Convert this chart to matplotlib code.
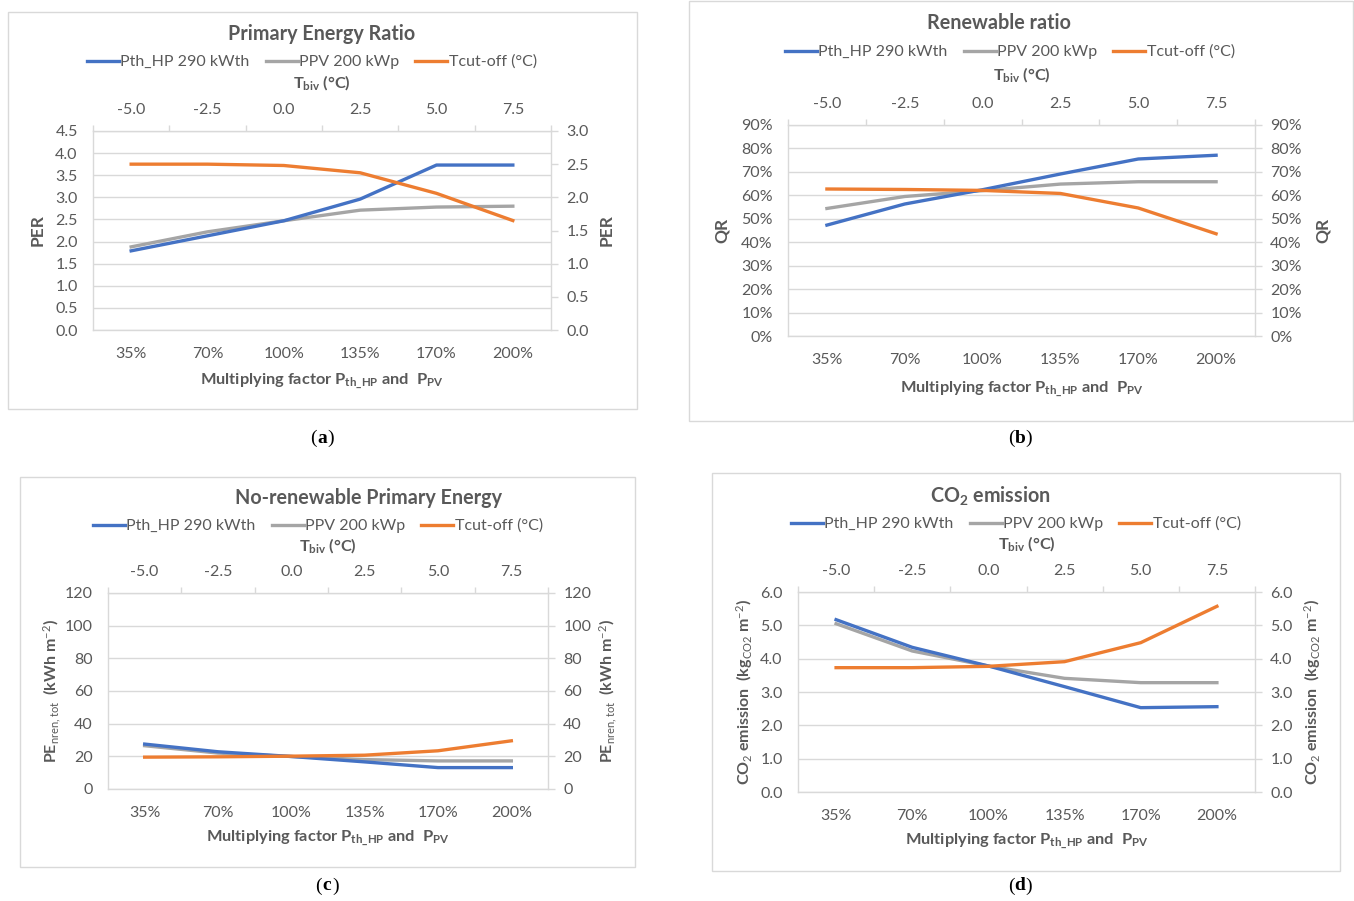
import matplotlib
matplotlib.use("Agg")
import matplotlib.pyplot as plt
from matplotlib.patches import Rectangle
from matplotlib.lines import Line2D
from matplotlib.ticker import FuncFormatter
import numpy as np

plt.rcParams["font.family"] = ["Lato", "DejaVu Sans"]
plt.rcParams["mathtext.fontset"] = "custom"
plt.rcParams["mathtext.rm"] = "Lato"
plt.rcParams["mathtext.it"] = "Lato:italic"
plt.rcParams["mathtext.bf"] = "Lato:bold"
plt.rcParams["mathtext.default"] = "regular"

W, H = 1354, 901

# ---- data -------------------------------------------------------------
categories = ["35%", "70%", "100%", "135%", "170%", "200%"]
tbiv_labels = ["-5.0", "-2.5", "0.0", "2.5", "5.0", "7.5"]
legend_labels = ["Pth_HP 290 kWth", "PPV 200 kWp", "Tcut-off (°C)"]

per_hp = [1.79, 2.13, 2.47, 2.96, 3.73, 3.73]
per_pv = [1.88, 2.22, 2.47, 2.71, 2.78, 2.80]
per_cut = [2.50, 2.50, 2.48, 2.37, 2.06, 1.65]

qr_hp = [0.473, 0.563, 0.624, 0.691, 0.755, 0.771]
qr_pv = [0.544, 0.595, 0.620, 0.648, 0.658, 0.658]
qr_cut = [0.627, 0.625, 0.621, 0.608, 0.546, 0.436]

pe_hp = [27.5, 22.8, 19.9, 16.6, 13.1, 13.1]
pe_pv = [26.5, 22.0, 19.9, 18.0, 17.2, 17.2]
pe_cut = [19.5, 19.7, 20.1, 20.7, 23.4, 29.5]

co2_hp = [5.17, 4.34, 3.78, 3.16, 2.53, 2.56]
co2_pv = [5.05, 4.23, 3.78, 3.41, 3.28, 3.28]
co2_cut = [3.73, 3.73, 3.77, 3.91, 4.48, 5.57]

# ---- style ------------------------------------------------------------
BLUE, GRAY, ORANGE = "#4472C4", "#A5A5A5", "#ED7D31"
TXT = "#595959"
GRID = "#d9d9d9"
LW = 2.4
TICK_FS = 11.5
LABEL_FS = 11.8
TITLE_FS = 14.2
LEGEND_FS = 11.5


def fx(x):
    return x / W


def fy(y):
    return 1 - y / H


fmt1 = FuncFormatter(lambda v, p: f"{v:.1f}")
fmtpct = FuncFormatter(lambda v, p: f"{v * 100:.0f}%")
fmtint = FuncFormatter(lambda v, p: f"{v:.0f}")

panels = [
    dict(box=(8, 12, 637, 409), plot=(93, 131, 551, 330),
         left=(0, 4.5, 0.5, fmt1), right=(0, 3.0, 0.5, fmt1),
         series=(per_hp, per_pv, per_cut),
         title="Primary Energy Ratio", title_xy=(322, 34),
         legend_xy=(312, 62), tbiv_y=83, xlabel_y=381,
         ylabel="PER", ylab_x=(38, 607), ylab_fs=12.5,
         tag="a", tag_xy=(322, 438)),
    dict(box=(689, 1, 1353, 421), plot=(788, 125, 1255, 336),
         left=(0, 0.9, 0.1, fmtpct), right=(0, 0.9, 0.1, fmtpct),
         series=(qr_hp, qr_pv, qr_cut),
         title="Renewable ratio", title_xy=(999, 23),
         legend_xy=(1010, 52), tbiv_y=75, xlabel_y=389,
         ylabel="QR", ylab_x=(722, 1323), ylab_fs=12.5,
         tag="b", tag_xy=(1020, 438)),
    dict(box=(20, 477, 635, 867), plot=(108, 593, 548, 789),
         left=(0, 120, 20, fmtint), right=(0, 120, 20, fmtint),
         series=(pe_hp, pe_pv, pe_cut),
         title="No-renewable Primary Energy", title_xy=(368, 498),
         legend_xy=(318, 526), tbiv_y=546, xlabel_y=838,
         ylabel=r"PE$_{\mathrm{nren,tot}}$  (kWh m$^{\mathrm{-2}}$)",
         ylab_x=(52, 608), ylab_fs=11.5,
         tag="c", tag_xy=(327, 886)),
    dict(box=(712, 473, 1340, 871), plot=(798, 592, 1255, 792),
         left=(0, 6.0, 1.0, fmt1), right=(0, 6.0, 1.0, fmt1),
         series=(co2_hp, co2_pv, co2_cut),
         title=r"CO$_{2}$ emission", title_xy=(990, 496),
         legend_xy=(1016, 524), tbiv_y=544, xlabel_y=841,
         ylabel=r"CO$_{\mathrm{2}}$ emission  (kg$_{\mathrm{CO2}}$ m$^{\mathrm{-2}}$)",
         ylab_x=(745, 1313), ylab_fs=11.5,
         tag="d", tag_xy=(1020, 886)),
]

fig = plt.figure(figsize=(W / 100, H / 100), dpi=100)
fig.patch.set_facecolor("white")

x = np.arange(len(categories))
bounds = np.arange(-0.5, len(categories), 1.0)

for p in panels:
    bx0, by0, bx1, by1 = p["box"]
    fig.patches.append(Rectangle((fx(bx0), fy(by1)), fx(bx1) - fx(bx0),
                                 (by1 - by0) / H, transform=fig.transFigure,
                                 facecolor="none", edgecolor=GRID, lw=1.0,
                                 zorder=-1))
    l, t, r, b = p["plot"]
    rect = [fx(l), fy(b), fx(r) - fx(l), (b - t) / H]

    # primary axes: bottom categories, left values
    ax = fig.add_axes(rect)
    ax.patch.set_visible(False)
    ax.set_xlim(-0.5, len(categories) - 0.5)
    lo, hi, step, fmt = p["left"]
    ax.set_ylim(lo, hi)
    ax.set_yticks(np.arange(lo, hi + step / 2, step))
    ax.yaxis.set_major_formatter(fmt)
    ax.set_xticks(x)
    ax.set_xticklabels(categories)
    ax.tick_params(axis="x", length=0, pad=12, labelsize=TICK_FS,
                   labelcolor=TXT)
    ax.tick_params(axis="y", length=0, pad=11, labelsize=TICK_FS,
                   labelcolor=TXT)
    ax.yaxis.grid(True, color=GRID, lw=1.0)
    ax.set_axisbelow(True)
    for s in ax.spines.values():
        s.set_color(GRID)
        s.set_linewidth(1.0)
    hp, pv, cut = p["series"]
    ax.plot(x, hp, color=BLUE, lw=LW, solid_joinstyle="round", zorder=3)
    ax.plot(x, pv, color=GRAY, lw=LW, solid_joinstyle="round", zorder=2)

    # secondary axes: top T_biv, right values
    ax2 = fig.add_axes(rect, frameon=False)
    ax2.patch.set_visible(False)
    ax2.xaxis.tick_top()
    ax2.yaxis.tick_right()
    ax2.set_xlim(-0.5, len(categories) - 0.5)
    rlo, rhi, rstep, rfmt = p["right"]
    ax2.set_ylim(rlo, rhi)
    ax2.set_yticks(np.arange(rlo, rhi + rstep / 2, rstep))
    ax2.yaxis.set_major_formatter(rfmt)
    ax2.set_xticks(bounds)
    ax2.set_xticklabels([""] * len(bounds))
    ax2.set_xticks(x, minor=True)
    ax2.set_xticklabels(tbiv_labels, minor=True)
    ax2.tick_params(axis="x", which="major", length=4, width=1.0,
                    color=GRID, direction="out")
    ax2.tick_params(axis="x", which="minor", length=0, pad=10,
                    labelsize=TICK_FS, labelcolor=TXT)
    ax2.tick_params(axis="y", length=5, width=1.0, color=GRID,
                    direction="out", pad=6, labelsize=TICK_FS, labelcolor=TXT)
    ax2.plot(x, cut, color=ORANGE, lw=LW, solid_joinstyle="round", zorder=4)

    # texts
    tx, ty = p["title_xy"]
    fig.text(fx(tx), fy(ty), p["title"], ha="center", va="center",
             fontsize=TITLE_FS, fontweight="bold", color=TXT)
    cx = (l + r) / 2
    fig.text(fx(cx), fy(p["tbiv_y"]), r"T$_{biv}$ (°C)", ha="center",
             va="center", fontsize=LABEL_FS, fontweight="bold", color=TXT)
    fig.text(fx(cx), fy(p["xlabel_y"]),
             r"Multiplying factor P$_{th\_HP}$ and  P$_{PV}$",
             ha="center", va="center", fontsize=LABEL_FS, fontweight="bold",
             color=TXT)
    ly = (t + b) / 2
    for lx in p["ylab_x"]:
        fig.text(fx(lx), fy(ly), p["ylabel"], ha="center", va="center",
                 rotation=90, fontsize=p["ylab_fs"], fontweight="bold",
                 color=TXT)

    handles = [Line2D([], [], color=c, lw=LW) for c in (BLUE, GRAY, ORANGE)]
    lgx, lgy = p["legend_xy"]
    leg = fig.legend(handles, legend_labels, loc="center",
                     bbox_to_anchor=(fx(lgx), fy(lgy)), ncol=3, frameon=False,
                     fontsize=LEGEND_FS, handlelength=2.0, handletextpad=0.1,
                     columnspacing=1.0, borderpad=0, borderaxespad=0)
    for txt in leg.get_texts():
        txt.set_color(TXT)

    # panel tag
    gx, gy = p["tag_xy"]
    fig.text(fx(gx), fy(gy), p["tag"], ha="center", va="center",
             fontsize=14, fontweight="bold", family="Liberation Serif",
             color="black")
    fig.text(fx(gx - 5), fy(gy), "(", ha="right", va="center",
             fontsize=14, family="Liberation Serif", color="black")
    fig.text(fx(gx + 5), fy(gy), ")", ha="left", va="center",
             fontsize=14, family="Liberation Serif", color="black")

fig.savefig("out.png", dpi=100, facecolor="white")
